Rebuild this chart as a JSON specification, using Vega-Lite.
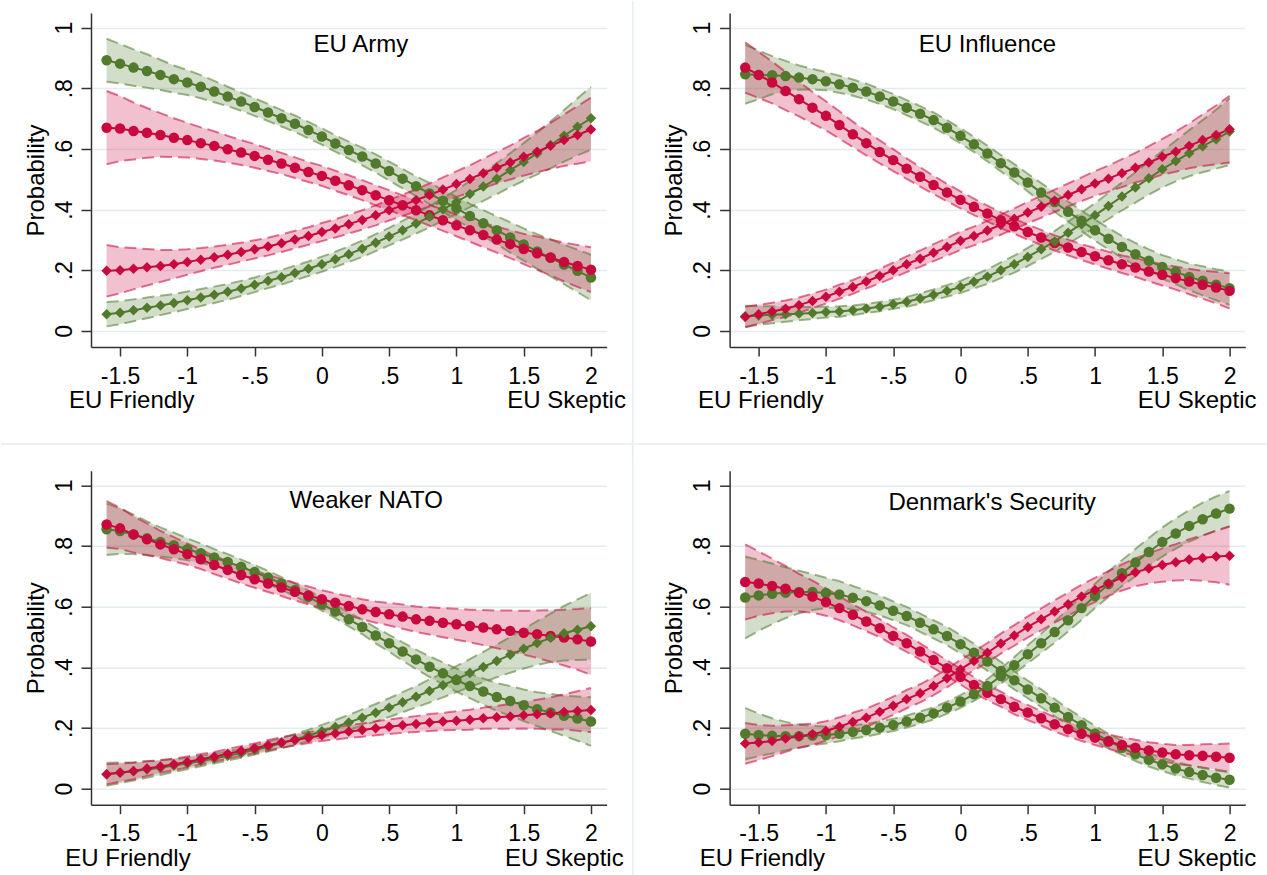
{
"$schema":"https://vega.github.io/schema/vega-lite/v6.json",
"background":"white",
"padding":{"left":0,"top":0,"right":0,"bottom":0},
"data":{"values":[
{"g":"EU Army","s":"a","x":-1.6,"p":0.892,"lo":0.821,"hi":0.963},
{"g":"EU Army","s":"a","x":-1.5,"p":0.881,"lo":0.816,"hi":0.946},
{"g":"EU Army","s":"a","x":-1.4,"p":0.868,"lo":0.808,"hi":0.928},
{"g":"EU Army","s":"a","x":-1.3,"p":0.857,"lo":0.802,"hi":0.912},
{"g":"EU Army","s":"a","x":-1.2,"p":0.844,"lo":0.794,"hi":0.894},
{"g":"EU Army","s":"a","x":-1.1,"p":0.830,"lo":0.785,"hi":0.875},
{"g":"EU Army","s":"a","x":-1,"p":0.819,"lo":0.778,"hi":0.860},
{"g":"EU Army","s":"a","x":-0.9,"p":0.805,"lo":0.767,"hi":0.843},
{"g":"EU Army","s":"a","x":-0.8,"p":0.789,"lo":0.754,"hi":0.824},
{"g":"EU Army","s":"a","x":-0.7,"p":0.773,"lo":0.741,"hi":0.805},
{"g":"EU Army","s":"a","x":-0.6,"p":0.756,"lo":0.726,"hi":0.786},
{"g":"EU Army","s":"a","x":-0.5,"p":0.738,"lo":0.709,"hi":0.767},
{"g":"EU Army","s":"a","x":-0.4,"p":0.720,"lo":0.692,"hi":0.748},
{"g":"EU Army","s":"a","x":-0.3,"p":0.701,"lo":0.674,"hi":0.728},
{"g":"EU Army","s":"a","x":-0.2,"p":0.683,"lo":0.656,"hi":0.710},
{"g":"EU Army","s":"a","x":-0.1,"p":0.662,"lo":0.635,"hi":0.689},
{"g":"EU Army","s":"a","x":0,"p":0.641,"lo":0.614,"hi":0.668},
{"g":"EU Army","s":"a","x":0.1,"p":0.618,"lo":0.591,"hi":0.645},
{"g":"EU Army","s":"a","x":0.2,"p":0.596,"lo":0.568,"hi":0.624},
{"g":"EU Army","s":"a","x":0.3,"p":0.575,"lo":0.546,"hi":0.604},
{"g":"EU Army","s":"a","x":0.4,"p":0.552,"lo":0.522,"hi":0.582},
{"g":"EU Army","s":"a","x":0.5,"p":0.527,"lo":0.496,"hi":0.558},
{"g":"EU Army","s":"a","x":0.6,"p":0.502,"lo":0.470,"hi":0.534},
{"g":"EU Army","s":"a","x":0.7,"p":0.477,"lo":0.444,"hi":0.510},
{"g":"EU Army","s":"a","x":0.8,"p":0.453,"lo":0.418,"hi":0.488},
{"g":"EU Army","s":"a","x":0.9,"p":0.429,"lo":0.393,"hi":0.465},
{"g":"EU Army","s":"a","x":1,"p":0.404,"lo":0.366,"hi":0.442},
{"g":"EU Army","s":"a","x":1.1,"p":0.379,"lo":0.339,"hi":0.419},
{"g":"EU Army","s":"a","x":1.2,"p":0.355,"lo":0.312,"hi":0.398},
{"g":"EU Army","s":"a","x":1.3,"p":0.332,"lo":0.286,"hi":0.378},
{"g":"EU Army","s":"a","x":1.4,"p":0.308,"lo":0.258,"hi":0.358},
{"g":"EU Army","s":"a","x":1.5,"p":0.285,"lo":0.232,"hi":0.338},
{"g":"EU Army","s":"a","x":1.6,"p":0.262,"lo":0.205,"hi":0.319},
{"g":"EU Army","s":"a","x":1.7,"p":0.241,"lo":0.180,"hi":0.302},
{"g":"EU Army","s":"a","x":1.8,"p":0.219,"lo":0.154,"hi":0.284},
{"g":"EU Army","s":"a","x":1.9,"p":0.198,"lo":0.128,"hi":0.268},
{"g":"EU Army","s":"a","x":2,"p":0.176,"lo":0.101,"hi":0.251},
{"g":"EU Army","s":"b","x":-1.6,"p":0.670,"lo":0.549,"hi":0.791},
{"g":"EU Army","s":"b","x":-1.5,"p":0.667,"lo":0.560,"hi":0.774},
{"g":"EU Army","s":"b","x":-1.4,"p":0.659,"lo":0.565,"hi":0.753},
{"g":"EU Army","s":"b","x":-1.3,"p":0.653,"lo":0.571,"hi":0.735},
{"g":"EU Army","s":"b","x":-1.2,"p":0.646,"lo":0.574,"hi":0.718},
{"g":"EU Army","s":"b","x":-1.1,"p":0.637,"lo":0.573,"hi":0.701},
{"g":"EU Army","s":"b","x":-1,"p":0.629,"lo":0.572,"hi":0.686},
{"g":"EU Army","s":"b","x":-0.9,"p":0.619,"lo":0.567,"hi":0.671},
{"g":"EU Army","s":"b","x":-0.8,"p":0.610,"lo":0.562,"hi":0.658},
{"g":"EU Army","s":"b","x":-0.7,"p":0.599,"lo":0.555,"hi":0.643},
{"g":"EU Army","s":"b","x":-0.6,"p":0.588,"lo":0.547,"hi":0.629},
{"g":"EU Army","s":"b","x":-0.5,"p":0.577,"lo":0.538,"hi":0.616},
{"g":"EU Army","s":"b","x":-0.4,"p":0.564,"lo":0.527,"hi":0.601},
{"g":"EU Army","s":"b","x":-0.3,"p":0.552,"lo":0.517,"hi":0.587},
{"g":"EU Army","s":"b","x":-0.2,"p":0.538,"lo":0.504,"hi":0.572},
{"g":"EU Army","s":"b","x":-0.1,"p":0.524,"lo":0.491,"hi":0.557},
{"g":"EU Army","s":"b","x":0,"p":0.511,"lo":0.478,"hi":0.544},
{"g":"EU Army","s":"b","x":0.1,"p":0.495,"lo":0.462,"hi":0.528},
{"g":"EU Army","s":"b","x":0.2,"p":0.480,"lo":0.447,"hi":0.513},
{"g":"EU Army","s":"b","x":0.3,"p":0.464,"lo":0.431,"hi":0.497},
{"g":"EU Army","s":"b","x":0.4,"p":0.447,"lo":0.414,"hi":0.480},
{"g":"EU Army","s":"b","x":0.5,"p":0.431,"lo":0.398,"hi":0.464},
{"g":"EU Army","s":"b","x":0.6,"p":0.414,"lo":0.381,"hi":0.447},
{"g":"EU Army","s":"b","x":0.7,"p":0.398,"lo":0.365,"hi":0.431},
{"g":"EU Army","s":"b","x":0.8,"p":0.381,"lo":0.347,"hi":0.415},
{"g":"EU Army","s":"b","x":0.9,"p":0.365,"lo":0.330,"hi":0.400},
{"g":"EU Army","s":"b","x":1,"p":0.348,"lo":0.312,"hi":0.384},
{"g":"EU Army","s":"b","x":1.1,"p":0.332,"lo":0.294,"hi":0.370},
{"g":"EU Army","s":"b","x":1.2,"p":0.316,"lo":0.276,"hi":0.356},
{"g":"EU Army","s":"b","x":1.3,"p":0.301,"lo":0.258,"hi":0.344},
{"g":"EU Army","s":"b","x":1.4,"p":0.286,"lo":0.240,"hi":0.332},
{"g":"EU Army","s":"b","x":1.5,"p":0.270,"lo":0.220,"hi":0.320},
{"g":"EU Army","s":"b","x":1.6,"p":0.256,"lo":0.201,"hi":0.311},
{"g":"EU Army","s":"b","x":1.7,"p":0.242,"lo":0.183,"hi":0.301},
{"g":"EU Army","s":"b","x":1.8,"p":0.227,"lo":0.163,"hi":0.291},
{"g":"EU Army","s":"b","x":1.9,"p":0.214,"lo":0.145,"hi":0.283},
{"g":"EU Army","s":"b","x":2,"p":0.202,"lo":0.128,"hi":0.276},
{"g":"EU Army","s":"c","x":-1.6,"p":0.055,"lo":0.015,"hi":0.095},
{"g":"EU Army","s":"c","x":-1.5,"p":0.060,"lo":0.022,"hi":0.098},
{"g":"EU Army","s":"c","x":-1.4,"p":0.068,"lo":0.032,"hi":0.104},
{"g":"EU Army","s":"c","x":-1.3,"p":0.076,"lo":0.042,"hi":0.110},
{"g":"EU Army","s":"c","x":-1.2,"p":0.084,"lo":0.052,"hi":0.116},
{"g":"EU Army","s":"c","x":-1.1,"p":0.092,"lo":0.062,"hi":0.122},
{"g":"EU Army","s":"c","x":-1,"p":0.101,"lo":0.072,"hi":0.130},
{"g":"EU Army","s":"c","x":-0.9,"p":0.110,"lo":0.082,"hi":0.138},
{"g":"EU Army","s":"c","x":-0.8,"p":0.119,"lo":0.092,"hi":0.146},
{"g":"EU Army","s":"c","x":-0.7,"p":0.129,"lo":0.103,"hi":0.155},
{"g":"EU Army","s":"c","x":-0.6,"p":0.140,"lo":0.115,"hi":0.165},
{"g":"EU Army","s":"c","x":-0.5,"p":0.152,"lo":0.128,"hi":0.176},
{"g":"EU Army","s":"c","x":-0.4,"p":0.165,"lo":0.141,"hi":0.189},
{"g":"EU Army","s":"c","x":-0.3,"p":0.177,"lo":0.153,"hi":0.201},
{"g":"EU Army","s":"c","x":-0.2,"p":0.191,"lo":0.167,"hi":0.215},
{"g":"EU Army","s":"c","x":-0.1,"p":0.205,"lo":0.181,"hi":0.229},
{"g":"EU Army","s":"c","x":0,"p":0.220,"lo":0.195,"hi":0.245},
{"g":"EU Army","s":"c","x":0.1,"p":0.236,"lo":0.211,"hi":0.261},
{"g":"EU Army","s":"c","x":0.2,"p":0.253,"lo":0.227,"hi":0.279},
{"g":"EU Army","s":"c","x":0.3,"p":0.271,"lo":0.244,"hi":0.298},
{"g":"EU Army","s":"c","x":0.4,"p":0.291,"lo":0.263,"hi":0.319},
{"g":"EU Army","s":"c","x":0.5,"p":0.311,"lo":0.282,"hi":0.340},
{"g":"EU Army","s":"c","x":0.6,"p":0.332,"lo":0.301,"hi":0.363},
{"g":"EU Army","s":"c","x":0.7,"p":0.354,"lo":0.321,"hi":0.387},
{"g":"EU Army","s":"c","x":0.8,"p":0.376,"lo":0.341,"hi":0.411},
{"g":"EU Army","s":"c","x":0.9,"p":0.401,"lo":0.364,"hi":0.438},
{"g":"EU Army","s":"c","x":1,"p":0.425,"lo":0.385,"hi":0.465},
{"g":"EU Army","s":"c","x":1.1,"p":0.451,"lo":0.408,"hi":0.494},
{"g":"EU Army","s":"c","x":1.2,"p":0.476,"lo":0.429,"hi":0.523},
{"g":"EU Army","s":"c","x":1.3,"p":0.502,"lo":0.451,"hi":0.553},
{"g":"EU Army","s":"c","x":1.4,"p":0.530,"lo":0.474,"hi":0.586},
{"g":"EU Army","s":"c","x":1.5,"p":0.557,"lo":0.495,"hi":0.619},
{"g":"EU Army","s":"c","x":1.6,"p":0.585,"lo":0.516,"hi":0.654},
{"g":"EU Army","s":"c","x":1.7,"p":0.613,"lo":0.536,"hi":0.690},
{"g":"EU Army","s":"c","x":1.8,"p":0.643,"lo":0.558,"hi":0.728},
{"g":"EU Army","s":"c","x":1.9,"p":0.673,"lo":0.579,"hi":0.767},
{"g":"EU Army","s":"c","x":2,"p":0.701,"lo":0.597,"hi":0.805},
{"g":"EU Army","s":"d","x":-1.6,"p":0.198,"lo":0.113,"hi":0.283},
{"g":"EU Army","s":"d","x":-1.5,"p":0.200,"lo":0.124,"hi":0.276},
{"g":"EU Army","s":"d","x":-1.4,"p":0.205,"lo":0.137,"hi":0.273},
{"g":"EU Army","s":"d","x":-1.3,"p":0.210,"lo":0.150,"hi":0.270},
{"g":"EU Army","s":"d","x":-1.2,"p":0.214,"lo":0.161,"hi":0.267},
{"g":"EU Army","s":"d","x":-1.1,"p":0.220,"lo":0.173,"hi":0.267},
{"g":"EU Army","s":"d","x":-1,"p":0.227,"lo":0.185,"hi":0.269},
{"g":"EU Army","s":"d","x":-0.9,"p":0.235,"lo":0.197,"hi":0.273},
{"g":"EU Army","s":"d","x":-0.8,"p":0.243,"lo":0.208,"hi":0.278},
{"g":"EU Army","s":"d","x":-0.7,"p":0.251,"lo":0.218,"hi":0.284},
{"g":"EU Army","s":"d","x":-0.6,"p":0.260,"lo":0.229,"hi":0.291},
{"g":"EU Army","s":"d","x":-0.5,"p":0.269,"lo":0.239,"hi":0.299},
{"g":"EU Army","s":"d","x":-0.4,"p":0.278,"lo":0.249,"hi":0.307},
{"g":"EU Army","s":"d","x":-0.3,"p":0.289,"lo":0.260,"hi":0.318},
{"g":"EU Army","s":"d","x":-0.2,"p":0.301,"lo":0.272,"hi":0.330},
{"g":"EU Army","s":"d","x":-0.1,"p":0.313,"lo":0.284,"hi":0.342},
{"g":"EU Army","s":"d","x":0,"p":0.326,"lo":0.296,"hi":0.356},
{"g":"EU Army","s":"d","x":0.1,"p":0.338,"lo":0.308,"hi":0.368},
{"g":"EU Army","s":"d","x":0.2,"p":0.352,"lo":0.321,"hi":0.383},
{"g":"EU Army","s":"d","x":0.3,"p":0.366,"lo":0.334,"hi":0.398},
{"g":"EU Army","s":"d","x":0.4,"p":0.381,"lo":0.348,"hi":0.414},
{"g":"EU Army","s":"d","x":0.5,"p":0.398,"lo":0.364,"hi":0.432},
{"g":"EU Army","s":"d","x":0.6,"p":0.414,"lo":0.379,"hi":0.449},
{"g":"EU Army","s":"d","x":0.7,"p":0.431,"lo":0.395,"hi":0.467},
{"g":"EU Army","s":"d","x":0.8,"p":0.448,"lo":0.410,"hi":0.486},
{"g":"EU Army","s":"d","x":0.9,"p":0.466,"lo":0.426,"hi":0.506},
{"g":"EU Army","s":"d","x":1,"p":0.484,"lo":0.442,"hi":0.526},
{"g":"EU Army","s":"d","x":1.1,"p":0.501,"lo":0.456,"hi":0.546},
{"g":"EU Army","s":"d","x":1.2,"p":0.520,"lo":0.472,"hi":0.568},
{"g":"EU Army","s":"d","x":1.3,"p":0.538,"lo":0.486,"hi":0.590},
{"g":"EU Army","s":"d","x":1.4,"p":0.555,"lo":0.499,"hi":0.611},
{"g":"EU Army","s":"d","x":1.5,"p":0.574,"lo":0.512,"hi":0.636},
{"g":"EU Army","s":"d","x":1.6,"p":0.591,"lo":0.523,"hi":0.659},
{"g":"EU Army","s":"d","x":1.7,"p":0.610,"lo":0.534,"hi":0.686},
{"g":"EU Army","s":"d","x":1.8,"p":0.629,"lo":0.544,"hi":0.714},
{"g":"EU Army","s":"d","x":1.9,"p":0.646,"lo":0.551,"hi":0.741},
{"g":"EU Army","s":"d","x":2,"p":0.664,"lo":0.559,"hi":0.769},
{"g":"EU Influence","s":"a","x":-1.6,"p":0.846,"lo":0.749,"hi":0.943},
{"g":"EU Influence","s":"a","x":-1.5,"p":0.844,"lo":0.764,"hi":0.924},
{"g":"EU Influence","s":"a","x":-1.4,"p":0.843,"lo":0.780,"hi":0.906},
{"g":"EU Influence","s":"a","x":-1.3,"p":0.840,"lo":0.790,"hi":0.890},
{"g":"EU Influence","s":"a","x":-1.2,"p":0.835,"lo":0.795,"hi":0.875},
{"g":"EU Influence","s":"a","x":-1.1,"p":0.830,"lo":0.796,"hi":0.864},
{"g":"EU Influence","s":"a","x":-1,"p":0.823,"lo":0.793,"hi":0.853},
{"g":"EU Influence","s":"a","x":-0.9,"p":0.813,"lo":0.785,"hi":0.841},
{"g":"EU Influence","s":"a","x":-0.8,"p":0.802,"lo":0.775,"hi":0.829},
{"g":"EU Influence","s":"a","x":-0.7,"p":0.789,"lo":0.763,"hi":0.815},
{"g":"EU Influence","s":"a","x":-0.6,"p":0.773,"lo":0.748,"hi":0.798},
{"g":"EU Influence","s":"a","x":-0.5,"p":0.756,"lo":0.731,"hi":0.781},
{"g":"EU Influence","s":"a","x":-0.4,"p":0.736,"lo":0.711,"hi":0.761},
{"g":"EU Influence","s":"a","x":-0.3,"p":0.716,"lo":0.691,"hi":0.741},
{"g":"EU Influence","s":"a","x":-0.2,"p":0.695,"lo":0.670,"hi":0.720},
{"g":"EU Influence","s":"a","x":-0.1,"p":0.670,"lo":0.645,"hi":0.695},
{"g":"EU Influence","s":"a","x":0,"p":0.643,"lo":0.618,"hi":0.668},
{"g":"EU Influence","s":"a","x":0.1,"p":0.615,"lo":0.590,"hi":0.640},
{"g":"EU Influence","s":"a","x":0.2,"p":0.585,"lo":0.559,"hi":0.611},
{"g":"EU Influence","s":"a","x":0.3,"p":0.553,"lo":0.526,"hi":0.580},
{"g":"EU Influence","s":"a","x":0.4,"p":0.522,"lo":0.494,"hi":0.550},
{"g":"EU Influence","s":"a","x":0.5,"p":0.489,"lo":0.460,"hi":0.518},
{"g":"EU Influence","s":"a","x":0.6,"p":0.456,"lo":0.425,"hi":0.487},
{"g":"EU Influence","s":"a","x":0.7,"p":0.425,"lo":0.393,"hi":0.457},
{"g":"EU Influence","s":"a","x":0.8,"p":0.393,"lo":0.360,"hi":0.426},
{"g":"EU Influence","s":"a","x":0.9,"p":0.363,"lo":0.329,"hi":0.397},
{"g":"EU Influence","s":"a","x":1,"p":0.332,"lo":0.297,"hi":0.367},
{"g":"EU Influence","s":"a","x":1.1,"p":0.304,"lo":0.269,"hi":0.339},
{"g":"EU Influence","s":"a","x":1.2,"p":0.277,"lo":0.241,"hi":0.313},
{"g":"EU Influence","s":"a","x":1.3,"p":0.253,"lo":0.216,"hi":0.290},
{"g":"EU Influence","s":"a","x":1.4,"p":0.231,"lo":0.193,"hi":0.269},
{"g":"EU Influence","s":"a","x":1.5,"p":0.211,"lo":0.172,"hi":0.250},
{"g":"EU Influence","s":"a","x":1.6,"p":0.195,"lo":0.154,"hi":0.236},
{"g":"EU Influence","s":"a","x":1.7,"p":0.178,"lo":0.134,"hi":0.222},
{"g":"EU Influence","s":"a","x":1.8,"p":0.165,"lo":0.117,"hi":0.213},
{"g":"EU Influence","s":"a","x":1.9,"p":0.152,"lo":0.101,"hi":0.203},
{"g":"EU Influence","s":"a","x":2,"p":0.141,"lo":0.086,"hi":0.196},
{"g":"EU Influence","s":"b","x":-1.6,"p":0.868,"lo":0.785,"hi":0.951},
{"g":"EU Influence","s":"b","x":-1.5,"p":0.844,"lo":0.768,"hi":0.920},
{"g":"EU Influence","s":"b","x":-1.4,"p":0.819,"lo":0.750,"hi":0.888},
{"g":"EU Influence","s":"b","x":-1.3,"p":0.791,"lo":0.728,"hi":0.854},
{"g":"EU Influence","s":"b","x":-1.2,"p":0.764,"lo":0.707,"hi":0.821},
{"g":"EU Influence","s":"b","x":-1.1,"p":0.736,"lo":0.684,"hi":0.788},
{"g":"EU Influence","s":"b","x":-1,"p":0.709,"lo":0.661,"hi":0.757},
{"g":"EU Influence","s":"b","x":-0.9,"p":0.679,"lo":0.634,"hi":0.724},
{"g":"EU Influence","s":"b","x":-0.8,"p":0.648,"lo":0.606,"hi":0.690},
{"g":"EU Influence","s":"b","x":-0.7,"p":0.619,"lo":0.579,"hi":0.659},
{"g":"EU Influence","s":"b","x":-0.6,"p":0.590,"lo":0.552,"hi":0.628},
{"g":"EU Influence","s":"b","x":-0.5,"p":0.563,"lo":0.527,"hi":0.599},
{"g":"EU Influence","s":"b","x":-0.4,"p":0.535,"lo":0.501,"hi":0.569},
{"g":"EU Influence","s":"b","x":-0.3,"p":0.508,"lo":0.476,"hi":0.540},
{"g":"EU Influence","s":"b","x":-0.2,"p":0.481,"lo":0.451,"hi":0.511},
{"g":"EU Influence","s":"b","x":-0.1,"p":0.456,"lo":0.427,"hi":0.485},
{"g":"EU Influence","s":"b","x":0,"p":0.432,"lo":0.404,"hi":0.460},
{"g":"EU Influence","s":"b","x":0.1,"p":0.409,"lo":0.382,"hi":0.436},
{"g":"EU Influence","s":"b","x":0.2,"p":0.387,"lo":0.361,"hi":0.413},
{"g":"EU Influence","s":"b","x":0.3,"p":0.365,"lo":0.339,"hi":0.391},
{"g":"EU Influence","s":"b","x":0.4,"p":0.345,"lo":0.320,"hi":0.370},
{"g":"EU Influence","s":"b","x":0.5,"p":0.326,"lo":0.301,"hi":0.351},
{"g":"EU Influence","s":"b","x":0.6,"p":0.308,"lo":0.283,"hi":0.333},
{"g":"EU Influence","s":"b","x":0.7,"p":0.290,"lo":0.265,"hi":0.315},
{"g":"EU Influence","s":"b","x":0.8,"p":0.275,"lo":0.249,"hi":0.301},
{"g":"EU Influence","s":"b","x":0.9,"p":0.260,"lo":0.234,"hi":0.286},
{"g":"EU Influence","s":"b","x":1,"p":0.246,"lo":0.219,"hi":0.273},
{"g":"EU Influence","s":"b","x":1.1,"p":0.233,"lo":0.205,"hi":0.261},
{"g":"EU Influence","s":"b","x":1.2,"p":0.220,"lo":0.191,"hi":0.249},
{"g":"EU Influence","s":"b","x":1.3,"p":0.209,"lo":0.178,"hi":0.240},
{"g":"EU Influence","s":"b","x":1.4,"p":0.196,"lo":0.163,"hi":0.229},
{"g":"EU Influence","s":"b","x":1.5,"p":0.185,"lo":0.150,"hi":0.220},
{"g":"EU Influence","s":"b","x":1.6,"p":0.174,"lo":0.136,"hi":0.212},
{"g":"EU Influence","s":"b","x":1.7,"p":0.163,"lo":0.121,"hi":0.205},
{"g":"EU Influence","s":"b","x":1.8,"p":0.152,"lo":0.106,"hi":0.198},
{"g":"EU Influence","s":"b","x":1.9,"p":0.143,"lo":0.091,"hi":0.195},
{"g":"EU Influence","s":"b","x":2,"p":0.132,"lo":0.074,"hi":0.190},
{"g":"EU Influence","s":"c","x":-1.6,"p":0.048,"lo":0.013,"hi":0.083},
{"g":"EU Influence","s":"c","x":-1.5,"p":0.051,"lo":0.020,"hi":0.082},
{"g":"EU Influence","s":"c","x":-1.4,"p":0.053,"lo":0.025,"hi":0.081},
{"g":"EU Influence","s":"c","x":-1.3,"p":0.055,"lo":0.030,"hi":0.080},
{"g":"EU Influence","s":"c","x":-1.2,"p":0.057,"lo":0.035,"hi":0.079},
{"g":"EU Influence","s":"c","x":-1.1,"p":0.059,"lo":0.039,"hi":0.079},
{"g":"EU Influence","s":"c","x":-1,"p":0.062,"lo":0.044,"hi":0.080},
{"g":"EU Influence","s":"c","x":-0.9,"p":0.064,"lo":0.047,"hi":0.081},
{"g":"EU Influence","s":"c","x":-0.8,"p":0.068,"lo":0.052,"hi":0.084},
{"g":"EU Influence","s":"c","x":-0.7,"p":0.074,"lo":0.059,"hi":0.089},
{"g":"EU Influence","s":"c","x":-0.6,"p":0.080,"lo":0.065,"hi":0.095},
{"g":"EU Influence","s":"c","x":-0.5,"p":0.088,"lo":0.073,"hi":0.103},
{"g":"EU Influence","s":"c","x":-0.4,"p":0.096,"lo":0.080,"hi":0.112},
{"g":"EU Influence","s":"c","x":-0.3,"p":0.107,"lo":0.090,"hi":0.124},
{"g":"EU Influence","s":"c","x":-0.2,"p":0.119,"lo":0.101,"hi":0.137},
{"g":"EU Influence","s":"c","x":-0.1,"p":0.132,"lo":0.113,"hi":0.151},
{"g":"EU Influence","s":"c","x":0,"p":0.145,"lo":0.125,"hi":0.165},
{"g":"EU Influence","s":"c","x":0.1,"p":0.162,"lo":0.140,"hi":0.184},
{"g":"EU Influence","s":"c","x":0.2,"p":0.179,"lo":0.155,"hi":0.203},
{"g":"EU Influence","s":"c","x":0.3,"p":0.200,"lo":0.174,"hi":0.226},
{"g":"EU Influence","s":"c","x":0.4,"p":0.220,"lo":0.192,"hi":0.248},
{"g":"EU Influence","s":"c","x":0.5,"p":0.244,"lo":0.214,"hi":0.274},
{"g":"EU Influence","s":"c","x":0.6,"p":0.269,"lo":0.237,"hi":0.301},
{"g":"EU Influence","s":"c","x":0.7,"p":0.295,"lo":0.261,"hi":0.329},
{"g":"EU Influence","s":"c","x":0.8,"p":0.324,"lo":0.288,"hi":0.360},
{"g":"EU Influence","s":"c","x":0.9,"p":0.352,"lo":0.314,"hi":0.390},
{"g":"EU Influence","s":"c","x":1,"p":0.381,"lo":0.341,"hi":0.421},
{"g":"EU Influence","s":"c","x":1.1,"p":0.412,"lo":0.369,"hi":0.455},
{"g":"EU Influence","s":"c","x":1.2,"p":0.443,"lo":0.397,"hi":0.489},
{"g":"EU Influence","s":"c","x":1.3,"p":0.473,"lo":0.423,"hi":0.523},
{"g":"EU Influence","s":"c","x":1.4,"p":0.503,"lo":0.449,"hi":0.557},
{"g":"EU Influence","s":"c","x":1.5,"p":0.533,"lo":0.473,"hi":0.593},
{"g":"EU Influence","s":"c","x":1.6,"p":0.560,"lo":0.493,"hi":0.627},
{"g":"EU Influence","s":"c","x":1.7,"p":0.586,"lo":0.510,"hi":0.662},
{"g":"EU Influence","s":"c","x":1.8,"p":0.609,"lo":0.523,"hi":0.695},
{"g":"EU Influence","s":"c","x":1.9,"p":0.632,"lo":0.535,"hi":0.729},
{"g":"EU Influence","s":"c","x":2,"p":0.657,"lo":0.547,"hi":0.767},
{"g":"EU Influence","s":"d","x":-1.6,"p":0.046,"lo":0.012,"hi":0.080},
{"g":"EU Influence","s":"d","x":-1.5,"p":0.055,"lo":0.024,"hi":0.086},
{"g":"EU Influence","s":"d","x":-1.4,"p":0.064,"lo":0.035,"hi":0.093},
{"g":"EU Influence","s":"d","x":-1.3,"p":0.073,"lo":0.046,"hi":0.100},
{"g":"EU Influence","s":"d","x":-1.2,"p":0.085,"lo":0.060,"hi":0.110},
{"g":"EU Influence","s":"d","x":-1.1,"p":0.099,"lo":0.075,"hi":0.123},
{"g":"EU Influence","s":"d","x":-1,"p":0.113,"lo":0.090,"hi":0.136},
{"g":"EU Influence","s":"d","x":-0.9,"p":0.129,"lo":0.106,"hi":0.152},
{"g":"EU Influence","s":"d","x":-0.8,"p":0.145,"lo":0.122,"hi":0.168},
{"g":"EU Influence","s":"d","x":-0.7,"p":0.163,"lo":0.140,"hi":0.186},
{"g":"EU Influence","s":"d","x":-0.6,"p":0.181,"lo":0.157,"hi":0.205},
{"g":"EU Influence","s":"d","x":-0.5,"p":0.200,"lo":0.175,"hi":0.225},
{"g":"EU Influence","s":"d","x":-0.4,"p":0.220,"lo":0.194,"hi":0.246},
{"g":"EU Influence","s":"d","x":-0.3,"p":0.238,"lo":0.211,"hi":0.265},
{"g":"EU Influence","s":"d","x":-0.2,"p":0.258,"lo":0.230,"hi":0.286},
{"g":"EU Influence","s":"d","x":-0.1,"p":0.277,"lo":0.248,"hi":0.306},
{"g":"EU Influence","s":"d","x":0,"p":0.297,"lo":0.267,"hi":0.327},
{"g":"EU Influence","s":"d","x":0.1,"p":0.313,"lo":0.282,"hi":0.344},
{"g":"EU Influence","s":"d","x":0.2,"p":0.331,"lo":0.299,"hi":0.363},
{"g":"EU Influence","s":"d","x":0.3,"p":0.350,"lo":0.317,"hi":0.383},
{"g":"EU Influence","s":"d","x":0.4,"p":0.370,"lo":0.336,"hi":0.404},
{"g":"EU Influence","s":"d","x":0.5,"p":0.390,"lo":0.355,"hi":0.425},
{"g":"EU Influence","s":"d","x":0.6,"p":0.409,"lo":0.373,"hi":0.445},
{"g":"EU Influence","s":"d","x":0.7,"p":0.429,"lo":0.392,"hi":0.466},
{"g":"EU Influence","s":"d","x":0.8,"p":0.448,"lo":0.410,"hi":0.486},
{"g":"EU Influence","s":"d","x":0.9,"p":0.467,"lo":0.428,"hi":0.506},
{"g":"EU Influence","s":"d","x":1,"p":0.486,"lo":0.445,"hi":0.527},
{"g":"EU Influence","s":"d","x":1.1,"p":0.502,"lo":0.459,"hi":0.545},
{"g":"EU Influence","s":"d","x":1.2,"p":0.520,"lo":0.474,"hi":0.566},
{"g":"EU Influence","s":"d","x":1.3,"p":0.538,"lo":0.489,"hi":0.587},
{"g":"EU Influence","s":"d","x":1.4,"p":0.555,"lo":0.501,"hi":0.609},
{"g":"EU Influence","s":"d","x":1.5,"p":0.574,"lo":0.515,"hi":0.633},
{"g":"EU Influence","s":"d","x":1.6,"p":0.591,"lo":0.525,"hi":0.657},
{"g":"EU Influence","s":"d","x":1.7,"p":0.610,"lo":0.536,"hi":0.684},
{"g":"EU Influence","s":"d","x":1.8,"p":0.629,"lo":0.544,"hi":0.714},
{"g":"EU Influence","s":"d","x":1.9,"p":0.646,"lo":0.549,"hi":0.743},
{"g":"EU Influence","s":"d","x":2,"p":0.665,"lo":0.555,"hi":0.775},
{"g":"Weaker NATO","s":"a","x":-1.6,"p":0.855,"lo":0.770,"hi":0.940},
{"g":"Weaker NATO","s":"a","x":-1.5,"p":0.849,"lo":0.774,"hi":0.924},
{"g":"Weaker NATO","s":"a","x":-1.4,"p":0.838,"lo":0.773,"hi":0.903},
{"g":"Weaker NATO","s":"a","x":-1.3,"p":0.825,"lo":0.769,"hi":0.881},
{"g":"Weaker NATO","s":"a","x":-1.2,"p":0.813,"lo":0.765,"hi":0.861},
{"g":"Weaker NATO","s":"a","x":-1.1,"p":0.802,"lo":0.760,"hi":0.844},
{"g":"Weaker NATO","s":"a","x":-1,"p":0.789,"lo":0.753,"hi":0.825},
{"g":"Weaker NATO","s":"a","x":-0.9,"p":0.776,"lo":0.744,"hi":0.808},
{"g":"Weaker NATO","s":"a","x":-0.8,"p":0.762,"lo":0.734,"hi":0.790},
{"g":"Weaker NATO","s":"a","x":-0.7,"p":0.747,"lo":0.721,"hi":0.773},
{"g":"Weaker NATO","s":"a","x":-0.6,"p":0.731,"lo":0.707,"hi":0.755},
{"g":"Weaker NATO","s":"a","x":-0.5,"p":0.714,"lo":0.691,"hi":0.737},
{"g":"Weaker NATO","s":"a","x":-0.4,"p":0.696,"lo":0.674,"hi":0.718},
{"g":"Weaker NATO","s":"a","x":-0.3,"p":0.676,"lo":0.655,"hi":0.697},
{"g":"Weaker NATO","s":"a","x":-0.2,"p":0.655,"lo":0.634,"hi":0.676},
{"g":"Weaker NATO","s":"a","x":-0.1,"p":0.632,"lo":0.611,"hi":0.653},
{"g":"Weaker NATO","s":"a","x":0,"p":0.608,"lo":0.587,"hi":0.629},
{"g":"Weaker NATO","s":"a","x":0.1,"p":0.584,"lo":0.562,"hi":0.606},
{"g":"Weaker NATO","s":"a","x":0.2,"p":0.558,"lo":0.535,"hi":0.581},
{"g":"Weaker NATO","s":"a","x":0.3,"p":0.533,"lo":0.509,"hi":0.557},
{"g":"Weaker NATO","s":"a","x":0.4,"p":0.505,"lo":0.479,"hi":0.531},
{"g":"Weaker NATO","s":"a","x":0.5,"p":0.479,"lo":0.451,"hi":0.507},
{"g":"Weaker NATO","s":"a","x":0.6,"p":0.452,"lo":0.422,"hi":0.482},
{"g":"Weaker NATO","s":"a","x":0.7,"p":0.426,"lo":0.394,"hi":0.458},
{"g":"Weaker NATO","s":"a","x":0.8,"p":0.402,"lo":0.368,"hi":0.436},
{"g":"Weaker NATO","s":"a","x":0.9,"p":0.380,"lo":0.344,"hi":0.416},
{"g":"Weaker NATO","s":"a","x":1,"p":0.358,"lo":0.320,"hi":0.396},
{"g":"Weaker NATO","s":"a","x":1.1,"p":0.338,"lo":0.298,"hi":0.378},
{"g":"Weaker NATO","s":"a","x":1.2,"p":0.320,"lo":0.277,"hi":0.363},
{"g":"Weaker NATO","s":"a","x":1.3,"p":0.302,"lo":0.256,"hi":0.348},
{"g":"Weaker NATO","s":"a","x":1.4,"p":0.289,"lo":0.240,"hi":0.338},
{"g":"Weaker NATO","s":"a","x":1.5,"p":0.275,"lo":0.223,"hi":0.327},
{"g":"Weaker NATO","s":"a","x":1.6,"p":0.262,"lo":0.206,"hi":0.318},
{"g":"Weaker NATO","s":"a","x":1.7,"p":0.251,"lo":0.190,"hi":0.312},
{"g":"Weaker NATO","s":"a","x":1.8,"p":0.240,"lo":0.174,"hi":0.306},
{"g":"Weaker NATO","s":"a","x":1.9,"p":0.231,"lo":0.158,"hi":0.304},
{"g":"Weaker NATO","s":"a","x":2,"p":0.221,"lo":0.141,"hi":0.301},
{"g":"Weaker NATO","s":"b","x":-1.6,"p":0.871,"lo":0.794,"hi":0.948},
{"g":"Weaker NATO","s":"b","x":-1.5,"p":0.858,"lo":0.790,"hi":0.926},
{"g":"Weaker NATO","s":"b","x":-1.4,"p":0.838,"lo":0.778,"hi":0.898},
{"g":"Weaker NATO","s":"b","x":-1.3,"p":0.822,"lo":0.770,"hi":0.874},
{"g":"Weaker NATO","s":"b","x":-1.2,"p":0.805,"lo":0.760,"hi":0.850},
{"g":"Weaker NATO","s":"b","x":-1.1,"p":0.789,"lo":0.749,"hi":0.829},
{"g":"Weaker NATO","s":"b","x":-1,"p":0.773,"lo":0.738,"hi":0.808},
{"g":"Weaker NATO","s":"b","x":-0.9,"p":0.756,"lo":0.724,"hi":0.788},
{"g":"Weaker NATO","s":"b","x":-0.8,"p":0.737,"lo":0.707,"hi":0.767},
{"g":"Weaker NATO","s":"b","x":-0.7,"p":0.721,"lo":0.692,"hi":0.750},
{"g":"Weaker NATO","s":"b","x":-0.6,"p":0.704,"lo":0.676,"hi":0.732},
{"g":"Weaker NATO","s":"b","x":-0.5,"p":0.690,"lo":0.662,"hi":0.718},
{"g":"Weaker NATO","s":"b","x":-0.4,"p":0.676,"lo":0.648,"hi":0.704},
{"g":"Weaker NATO","s":"b","x":-0.3,"p":0.663,"lo":0.635,"hi":0.691},
{"g":"Weaker NATO","s":"b","x":-0.2,"p":0.649,"lo":0.620,"hi":0.678},
{"g":"Weaker NATO","s":"b","x":-0.1,"p":0.637,"lo":0.608,"hi":0.666},
{"g":"Weaker NATO","s":"b","x":0,"p":0.624,"lo":0.594,"hi":0.654},
{"g":"Weaker NATO","s":"b","x":0.1,"p":0.613,"lo":0.582,"hi":0.644},
{"g":"Weaker NATO","s":"b","x":0.2,"p":0.602,"lo":0.570,"hi":0.634},
{"g":"Weaker NATO","s":"b","x":0.3,"p":0.591,"lo":0.558,"hi":0.624},
{"g":"Weaker NATO","s":"b","x":0.4,"p":0.582,"lo":0.547,"hi":0.617},
{"g":"Weaker NATO","s":"b","x":0.5,"p":0.575,"lo":0.538,"hi":0.612},
{"g":"Weaker NATO","s":"b","x":0.6,"p":0.567,"lo":0.527,"hi":0.607},
{"g":"Weaker NATO","s":"b","x":0.7,"p":0.558,"lo":0.516,"hi":0.600},
{"g":"Weaker NATO","s":"b","x":0.8,"p":0.553,"lo":0.508,"hi":0.598},
{"g":"Weaker NATO","s":"b","x":0.9,"p":0.547,"lo":0.499,"hi":0.595},
{"g":"Weaker NATO","s":"b","x":1,"p":0.542,"lo":0.491,"hi":0.593},
{"g":"Weaker NATO","s":"b","x":1.1,"p":0.536,"lo":0.482,"hi":0.590},
{"g":"Weaker NATO","s":"b","x":1.2,"p":0.531,"lo":0.473,"hi":0.589},
{"g":"Weaker NATO","s":"b","x":1.3,"p":0.525,"lo":0.463,"hi":0.587},
{"g":"Weaker NATO","s":"b","x":1.4,"p":0.520,"lo":0.453,"hi":0.587},
{"g":"Weaker NATO","s":"b","x":1.5,"p":0.514,"lo":0.442,"hi":0.586},
{"g":"Weaker NATO","s":"b","x":1.6,"p":0.509,"lo":0.431,"hi":0.587},
{"g":"Weaker NATO","s":"b","x":1.7,"p":0.503,"lo":0.418,"hi":0.588},
{"g":"Weaker NATO","s":"b","x":1.8,"p":0.498,"lo":0.406,"hi":0.590},
{"g":"Weaker NATO","s":"b","x":1.9,"p":0.492,"lo":0.392,"hi":0.592},
{"g":"Weaker NATO","s":"b","x":2,"p":0.485,"lo":0.375,"hi":0.595},
{"g":"Weaker NATO","s":"c","x":-1.6,"p":0.047,"lo":0.009,"hi":0.085},
{"g":"Weaker NATO","s":"c","x":-1.5,"p":0.052,"lo":0.018,"hi":0.086},
{"g":"Weaker NATO","s":"c","x":-1.4,"p":0.057,"lo":0.027,"hi":0.087},
{"g":"Weaker NATO","s":"c","x":-1.3,"p":0.063,"lo":0.036,"hi":0.090},
{"g":"Weaker NATO","s":"c","x":-1.2,"p":0.069,"lo":0.045,"hi":0.093},
{"g":"Weaker NATO","s":"c","x":-1.1,"p":0.076,"lo":0.055,"hi":0.097},
{"g":"Weaker NATO","s":"c","x":-1,"p":0.083,"lo":0.064,"hi":0.102},
{"g":"Weaker NATO","s":"c","x":-0.9,"p":0.091,"lo":0.074,"hi":0.108},
{"g":"Weaker NATO","s":"c","x":-0.8,"p":0.099,"lo":0.083,"hi":0.115},
{"g":"Weaker NATO","s":"c","x":-0.7,"p":0.108,"lo":0.093,"hi":0.123},
{"g":"Weaker NATO","s":"c","x":-0.6,"p":0.117,"lo":0.102,"hi":0.132},
{"g":"Weaker NATO","s":"c","x":-0.5,"p":0.127,"lo":0.112,"hi":0.142},
{"g":"Weaker NATO","s":"c","x":-0.4,"p":0.138,"lo":0.122,"hi":0.154},
{"g":"Weaker NATO","s":"c","x":-0.3,"p":0.150,"lo":0.133,"hi":0.167},
{"g":"Weaker NATO","s":"c","x":-0.2,"p":0.162,"lo":0.144,"hi":0.180},
{"g":"Weaker NATO","s":"c","x":-0.1,"p":0.175,"lo":0.156,"hi":0.194},
{"g":"Weaker NATO","s":"c","x":0,"p":0.189,"lo":0.168,"hi":0.210},
{"g":"Weaker NATO","s":"c","x":0.1,"p":0.203,"lo":0.180,"hi":0.226},
{"g":"Weaker NATO","s":"c","x":0.2,"p":0.218,"lo":0.193,"hi":0.243},
{"g":"Weaker NATO","s":"c","x":0.3,"p":0.234,"lo":0.207,"hi":0.261},
{"g":"Weaker NATO","s":"c","x":0.4,"p":0.250,"lo":0.221,"hi":0.279},
{"g":"Weaker NATO","s":"c","x":0.5,"p":0.267,"lo":0.236,"hi":0.298},
{"g":"Weaker NATO","s":"c","x":0.6,"p":0.285,"lo":0.252,"hi":0.318},
{"g":"Weaker NATO","s":"c","x":0.7,"p":0.303,"lo":0.268,"hi":0.338},
{"g":"Weaker NATO","s":"c","x":0.8,"p":0.322,"lo":0.284,"hi":0.360},
{"g":"Weaker NATO","s":"c","x":0.9,"p":0.341,"lo":0.301,"hi":0.381},
{"g":"Weaker NATO","s":"c","x":1,"p":0.361,"lo":0.318,"hi":0.404},
{"g":"Weaker NATO","s":"c","x":1.1,"p":0.381,"lo":0.335,"hi":0.427},
{"g":"Weaker NATO","s":"c","x":1.2,"p":0.401,"lo":0.351,"hi":0.451},
{"g":"Weaker NATO","s":"c","x":1.3,"p":0.421,"lo":0.367,"hi":0.475},
{"g":"Weaker NATO","s":"c","x":1.4,"p":0.441,"lo":0.382,"hi":0.500},
{"g":"Weaker NATO","s":"c","x":1.5,"p":0.461,"lo":0.396,"hi":0.526},
{"g":"Weaker NATO","s":"c","x":1.6,"p":0.480,"lo":0.408,"hi":0.552},
{"g":"Weaker NATO","s":"c","x":1.7,"p":0.497,"lo":0.417,"hi":0.577},
{"g":"Weaker NATO","s":"c","x":1.8,"p":0.512,"lo":0.422,"hi":0.602},
{"g":"Weaker NATO","s":"c","x":1.9,"p":0.524,"lo":0.424,"hi":0.624},
{"g":"Weaker NATO","s":"c","x":2,"p":0.535,"lo":0.425,"hi":0.645},
{"g":"Weaker NATO","s":"d","x":-1.6,"p":0.047,"lo":0.014,"hi":0.080},
{"g":"Weaker NATO","s":"d","x":-1.5,"p":0.053,"lo":0.023,"hi":0.083},
{"g":"Weaker NATO","s":"d","x":-1.4,"p":0.058,"lo":0.031,"hi":0.085},
{"g":"Weaker NATO","s":"d","x":-1.3,"p":0.066,"lo":0.042,"hi":0.090},
{"g":"Weaker NATO","s":"d","x":-1.2,"p":0.073,"lo":0.052,"hi":0.094},
{"g":"Weaker NATO","s":"d","x":-1.1,"p":0.080,"lo":0.061,"hi":0.099},
{"g":"Weaker NATO","s":"d","x":-1,"p":0.088,"lo":0.070,"hi":0.106},
{"g":"Weaker NATO","s":"d","x":-0.9,"p":0.097,"lo":0.080,"hi":0.114},
{"g":"Weaker NATO","s":"d","x":-0.8,"p":0.105,"lo":0.089,"hi":0.121},
{"g":"Weaker NATO","s":"d","x":-0.7,"p":0.115,"lo":0.099,"hi":0.131},
{"g":"Weaker NATO","s":"d","x":-0.6,"p":0.124,"lo":0.108,"hi":0.140},
{"g":"Weaker NATO","s":"d","x":-0.5,"p":0.133,"lo":0.117,"hi":0.149},
{"g":"Weaker NATO","s":"d","x":-0.4,"p":0.143,"lo":0.126,"hi":0.160},
{"g":"Weaker NATO","s":"d","x":-0.3,"p":0.152,"lo":0.135,"hi":0.169},
{"g":"Weaker NATO","s":"d","x":-0.2,"p":0.160,"lo":0.142,"hi":0.178},
{"g":"Weaker NATO","s":"d","x":-0.1,"p":0.168,"lo":0.150,"hi":0.186},
{"g":"Weaker NATO","s":"d","x":0,"p":0.176,"lo":0.157,"hi":0.195},
{"g":"Weaker NATO","s":"d","x":0.1,"p":0.182,"lo":0.162,"hi":0.202},
{"g":"Weaker NATO","s":"d","x":0.2,"p":0.188,"lo":0.167,"hi":0.209},
{"g":"Weaker NATO","s":"d","x":0.3,"p":0.193,"lo":0.171,"hi":0.215},
{"g":"Weaker NATO","s":"d","x":0.4,"p":0.199,"lo":0.176,"hi":0.222},
{"g":"Weaker NATO","s":"d","x":0.5,"p":0.204,"lo":0.180,"hi":0.228},
{"g":"Weaker NATO","s":"d","x":0.6,"p":0.209,"lo":0.184,"hi":0.234},
{"g":"Weaker NATO","s":"d","x":0.7,"p":0.213,"lo":0.187,"hi":0.239},
{"g":"Weaker NATO","s":"d","x":0.8,"p":0.218,"lo":0.190,"hi":0.246},
{"g":"Weaker NATO","s":"d","x":0.9,"p":0.221,"lo":0.192,"hi":0.250},
{"g":"Weaker NATO","s":"d","x":1,"p":0.224,"lo":0.193,"hi":0.255},
{"g":"Weaker NATO","s":"d","x":1.1,"p":0.227,"lo":0.194,"hi":0.260},
{"g":"Weaker NATO","s":"d","x":1.2,"p":0.232,"lo":0.197,"hi":0.267},
{"g":"Weaker NATO","s":"d","x":1.3,"p":0.235,"lo":0.197,"hi":0.273},
{"g":"Weaker NATO","s":"d","x":1.4,"p":0.238,"lo":0.197,"hi":0.279},
{"g":"Weaker NATO","s":"d","x":1.5,"p":0.242,"lo":0.198,"hi":0.286},
{"g":"Weaker NATO","s":"d","x":1.6,"p":0.245,"lo":0.197,"hi":0.293},
{"g":"Weaker NATO","s":"d","x":1.7,"p":0.248,"lo":0.195,"hi":0.301},
{"g":"Weaker NATO","s":"d","x":1.8,"p":0.253,"lo":0.195,"hi":0.311},
{"g":"Weaker NATO","s":"d","x":1.9,"p":0.256,"lo":0.191,"hi":0.321},
{"g":"Weaker NATO","s":"d","x":2,"p":0.259,"lo":0.186,"hi":0.332},
{"g":"Denmark's Security","s":"a","x":-1.6,"p":0.630,"lo":0.495,"hi":0.765},
{"g":"Denmark's Security","s":"a","x":-1.5,"p":0.637,"lo":0.520,"hi":0.754},
{"g":"Denmark's Security","s":"a","x":-1.4,"p":0.642,"lo":0.542,"hi":0.742},
{"g":"Denmark's Security","s":"a","x":-1.3,"p":0.646,"lo":0.562,"hi":0.730},
{"g":"Denmark's Security","s":"a","x":-1.2,"p":0.648,"lo":0.578,"hi":0.718},
{"g":"Denmark's Security","s":"a","x":-1.1,"p":0.648,"lo":0.589,"hi":0.707},
{"g":"Denmark's Security","s":"a","x":-1,"p":0.645,"lo":0.595,"hi":0.695},
{"g":"Denmark's Security","s":"a","x":-0.9,"p":0.640,"lo":0.596,"hi":0.684},
{"g":"Denmark's Security","s":"a","x":-0.8,"p":0.629,"lo":0.590,"hi":0.668},
{"g":"Denmark's Security","s":"a","x":-0.7,"p":0.618,"lo":0.583,"hi":0.653},
{"g":"Denmark's Security","s":"a","x":-0.6,"p":0.604,"lo":0.571,"hi":0.637},
{"g":"Denmark's Security","s":"a","x":-0.5,"p":0.586,"lo":0.555,"hi":0.617},
{"g":"Denmark's Security","s":"a","x":-0.4,"p":0.569,"lo":0.539,"hi":0.599},
{"g":"Denmark's Security","s":"a","x":-0.3,"p":0.547,"lo":0.517,"hi":0.577},
{"g":"Denmark's Security","s":"a","x":-0.2,"p":0.525,"lo":0.495,"hi":0.555},
{"g":"Denmark's Security","s":"a","x":-0.1,"p":0.503,"lo":0.473,"hi":0.533},
{"g":"Denmark's Security","s":"a","x":0,"p":0.476,"lo":0.446,"hi":0.506},
{"g":"Denmark's Security","s":"a","x":0.1,"p":0.448,"lo":0.418,"hi":0.478},
{"g":"Denmark's Security","s":"a","x":0.2,"p":0.419,"lo":0.389,"hi":0.449},
{"g":"Denmark's Security","s":"a","x":0.3,"p":0.388,"lo":0.358,"hi":0.418},
{"g":"Denmark's Security","s":"a","x":0.4,"p":0.357,"lo":0.327,"hi":0.387},
{"g":"Denmark's Security","s":"a","x":0.5,"p":0.327,"lo":0.298,"hi":0.356},
{"g":"Denmark's Security","s":"a","x":0.6,"p":0.298,"lo":0.269,"hi":0.327},
{"g":"Denmark's Security","s":"a","x":0.7,"p":0.267,"lo":0.239,"hi":0.295},
{"g":"Denmark's Security","s":"a","x":0.8,"p":0.236,"lo":0.209,"hi":0.263},
{"g":"Denmark's Security","s":"a","x":0.9,"p":0.209,"lo":0.183,"hi":0.235},
{"g":"Denmark's Security","s":"a","x":1,"p":0.182,"lo":0.157,"hi":0.207},
{"g":"Denmark's Security","s":"a","x":1.1,"p":0.157,"lo":0.133,"hi":0.181},
{"g":"Denmark's Security","s":"a","x":1.2,"p":0.135,"lo":0.112,"hi":0.158},
{"g":"Denmark's Security","s":"a","x":1.3,"p":0.113,"lo":0.091,"hi":0.135},
{"g":"Denmark's Security","s":"a","x":1.4,"p":0.095,"lo":0.073,"hi":0.117},
{"g":"Denmark's Security","s":"a","x":1.5,"p":0.080,"lo":0.058,"hi":0.102},
{"g":"Denmark's Security","s":"a","x":1.6,"p":0.066,"lo":0.044,"hi":0.088},
{"g":"Denmark's Security","s":"a","x":1.7,"p":0.055,"lo":0.033,"hi":0.077},
{"g":"Denmark's Security","s":"a","x":1.8,"p":0.045,"lo":0.022,"hi":0.068},
{"g":"Denmark's Security","s":"a","x":1.9,"p":0.036,"lo":0.012,"hi":0.060},
{"g":"Denmark's Security","s":"a","x":2,"p":0.029,"lo":0.003,"hi":0.055},
{"g":"Denmark's Security","s":"b","x":-1.6,"p":0.681,"lo":0.557,"hi":0.805},
{"g":"Denmark's Security","s":"b","x":-1.5,"p":0.676,"lo":0.570,"hi":0.782},
{"g":"Denmark's Security","s":"b","x":-1.4,"p":0.668,"lo":0.578,"hi":0.758},
{"g":"Denmark's Security","s":"b","x":-1.3,"p":0.659,"lo":0.584,"hi":0.734},
{"g":"Denmark's Security","s":"b","x":-1.2,"p":0.646,"lo":0.584,"hi":0.708},
{"g":"Denmark's Security","s":"b","x":-1.1,"p":0.633,"lo":0.580,"hi":0.686},
{"g":"Denmark's Security","s":"b","x":-1,"p":0.615,"lo":0.570,"hi":0.660},
{"g":"Denmark's Security","s":"b","x":-0.9,"p":0.595,"lo":0.555,"hi":0.635},
{"g":"Denmark's Security","s":"b","x":-0.8,"p":0.573,"lo":0.538,"hi":0.608},
{"g":"Denmark's Security","s":"b","x":-0.7,"p":0.551,"lo":0.519,"hi":0.583},
{"g":"Denmark's Security","s":"b","x":-0.6,"p":0.529,"lo":0.499,"hi":0.559},
{"g":"Denmark's Security","s":"b","x":-0.5,"p":0.503,"lo":0.474,"hi":0.532},
{"g":"Denmark's Security","s":"b","x":-0.4,"p":0.479,"lo":0.451,"hi":0.507},
{"g":"Denmark's Security","s":"b","x":-0.3,"p":0.452,"lo":0.425,"hi":0.479},
{"g":"Denmark's Security","s":"b","x":-0.2,"p":0.424,"lo":0.397,"hi":0.451},
{"g":"Denmark's Security","s":"b","x":-0.1,"p":0.397,"lo":0.371,"hi":0.423},
{"g":"Denmark's Security","s":"b","x":0,"p":0.369,"lo":0.343,"hi":0.395},
{"g":"Denmark's Security","s":"b","x":0.1,"p":0.342,"lo":0.316,"hi":0.368},
{"g":"Denmark's Security","s":"b","x":0.2,"p":0.316,"lo":0.291,"hi":0.341},
{"g":"Denmark's Security","s":"b","x":0.3,"p":0.295,"lo":0.270,"hi":0.320},
{"g":"Denmark's Security","s":"b","x":0.4,"p":0.270,"lo":0.245,"hi":0.295},
{"g":"Denmark's Security","s":"b","x":0.5,"p":0.251,"lo":0.226,"hi":0.276},
{"g":"Denmark's Security","s":"b","x":0.6,"p":0.232,"lo":0.208,"hi":0.256},
{"g":"Denmark's Security","s":"b","x":0.7,"p":0.212,"lo":0.188,"hi":0.236},
{"g":"Denmark's Security","s":"b","x":0.8,"p":0.196,"lo":0.172,"hi":0.220},
{"g":"Denmark's Security","s":"b","x":0.9,"p":0.181,"lo":0.157,"hi":0.205},
{"g":"Denmark's Security","s":"b","x":1,"p":0.168,"lo":0.144,"hi":0.192},
{"g":"Denmark's Security","s":"b","x":1.1,"p":0.155,"lo":0.131,"hi":0.179},
{"g":"Denmark's Security","s":"b","x":1.2,"p":0.144,"lo":0.119,"hi":0.169},
{"g":"Denmark's Security","s":"b","x":1.3,"p":0.135,"lo":0.109,"hi":0.161},
{"g":"Denmark's Security","s":"b","x":1.4,"p":0.126,"lo":0.099,"hi":0.153},
{"g":"Denmark's Security","s":"b","x":1.5,"p":0.119,"lo":0.090,"hi":0.148},
{"g":"Denmark's Security","s":"b","x":1.6,"p":0.113,"lo":0.082,"hi":0.144},
{"g":"Denmark's Security","s":"b","x":1.7,"p":0.110,"lo":0.076,"hi":0.144},
{"g":"Denmark's Security","s":"b","x":1.8,"p":0.108,"lo":0.070,"hi":0.146},
{"g":"Denmark's Security","s":"b","x":1.9,"p":0.105,"lo":0.063,"hi":0.147},
{"g":"Denmark's Security","s":"b","x":2,"p":0.102,"lo":0.055,"hi":0.149},
{"g":"Denmark's Security","s":"e","x":-1.6,"p":0.181,"lo":0.096,"hi":0.266},
{"g":"Denmark's Security","s":"e","x":-1.5,"p":0.177,"lo":0.107,"hi":0.247},
{"g":"Denmark's Security","s":"e","x":-1.4,"p":0.174,"lo":0.116,"hi":0.232},
{"g":"Denmark's Security","s":"e","x":-1.3,"p":0.173,"lo":0.126,"hi":0.220},
{"g":"Denmark's Security","s":"e","x":-1.2,"p":0.173,"lo":0.135,"hi":0.211},
{"g":"Denmark's Security","s":"e","x":-1.1,"p":0.175,"lo":0.143,"hi":0.207},
{"g":"Denmark's Security","s":"e","x":-1,"p":0.177,"lo":0.149,"hi":0.205},
{"g":"Denmark's Security","s":"e","x":-0.9,"p":0.181,"lo":0.156,"hi":0.206},
{"g":"Denmark's Security","s":"e","x":-0.8,"p":0.187,"lo":0.165,"hi":0.209},
{"g":"Denmark's Security","s":"e","x":-0.7,"p":0.193,"lo":0.172,"hi":0.214},
{"g":"Denmark's Security","s":"e","x":-0.6,"p":0.201,"lo":0.181,"hi":0.221},
{"g":"Denmark's Security","s":"e","x":-0.5,"p":0.210,"lo":0.190,"hi":0.230},
{"g":"Denmark's Security","s":"e","x":-0.4,"p":0.221,"lo":0.201,"hi":0.241},
{"g":"Denmark's Security","s":"e","x":-0.3,"p":0.234,"lo":0.214,"hi":0.254},
{"g":"Denmark's Security","s":"e","x":-0.2,"p":0.248,"lo":0.228,"hi":0.268},
{"g":"Denmark's Security","s":"e","x":-0.1,"p":0.267,"lo":0.247,"hi":0.287},
{"g":"Denmark's Security","s":"e","x":0,"p":0.287,"lo":0.266,"hi":0.308},
{"g":"Denmark's Security","s":"e","x":0.1,"p":0.311,"lo":0.289,"hi":0.333},
{"g":"Denmark's Security","s":"e","x":0.2,"p":0.338,"lo":0.315,"hi":0.361},
{"g":"Denmark's Security","s":"e","x":0.3,"p":0.371,"lo":0.346,"hi":0.396},
{"g":"Denmark's Security","s":"e","x":0.4,"p":0.407,"lo":0.380,"hi":0.434},
{"g":"Denmark's Security","s":"e","x":0.5,"p":0.443,"lo":0.413,"hi":0.473},
{"g":"Denmark's Security","s":"e","x":0.6,"p":0.479,"lo":0.447,"hi":0.511},
{"g":"Denmark's Security","s":"e","x":0.7,"p":0.516,"lo":0.481,"hi":0.551},
{"g":"Denmark's Security","s":"e","x":0.8,"p":0.555,"lo":0.518,"hi":0.592},
{"g":"Denmark's Security","s":"e","x":0.9,"p":0.595,"lo":0.556,"hi":0.634},
{"g":"Denmark's Security","s":"e","x":1,"p":0.635,"lo":0.595,"hi":0.675},
{"g":"Denmark's Security","s":"e","x":1.1,"p":0.674,"lo":0.632,"hi":0.716},
{"g":"Denmark's Security","s":"e","x":1.2,"p":0.710,"lo":0.667,"hi":0.753},
{"g":"Denmark's Security","s":"e","x":1.3,"p":0.745,"lo":0.700,"hi":0.790},
{"g":"Denmark's Security","s":"e","x":1.4,"p":0.780,"lo":0.734,"hi":0.826},
{"g":"Denmark's Security","s":"e","x":1.5,"p":0.813,"lo":0.765,"hi":0.861},
{"g":"Denmark's Security","s":"e","x":1.6,"p":0.841,"lo":0.791,"hi":0.891},
{"g":"Denmark's Security","s":"e","x":1.7,"p":0.866,"lo":0.814,"hi":0.918},
{"g":"Denmark's Security","s":"e","x":1.8,"p":0.888,"lo":0.833,"hi":0.943},
{"g":"Denmark's Security","s":"e","x":1.9,"p":0.907,"lo":0.851,"hi":0.963},
{"g":"Denmark's Security","s":"e","x":2,"p":0.923,"lo":0.865,"hi":0.981},
{"g":"Denmark's Security","s":"d","x":-1.6,"p":0.149,"lo":0.082,"hi":0.216},
{"g":"Denmark's Security","s":"d","x":-1.5,"p":0.152,"lo":0.094,"hi":0.210},
{"g":"Denmark's Security","s":"d","x":-1.4,"p":0.157,"lo":0.107,"hi":0.207},
{"g":"Denmark's Security","s":"d","x":-1.3,"p":0.165,"lo":0.121,"hi":0.209},
{"g":"Denmark's Security","s":"d","x":-1.2,"p":0.173,"lo":0.135,"hi":0.211},
{"g":"Denmark's Security","s":"d","x":-1.1,"p":0.179,"lo":0.144,"hi":0.214},
{"g":"Denmark's Security","s":"d","x":-1,"p":0.190,"lo":0.158,"hi":0.222},
{"g":"Denmark's Security","s":"d","x":-0.9,"p":0.204,"lo":0.173,"hi":0.235},
{"g":"Denmark's Security","s":"d","x":-0.8,"p":0.220,"lo":0.190,"hi":0.250},
{"g":"Denmark's Security","s":"d","x":-0.7,"p":0.234,"lo":0.204,"hi":0.264},
{"g":"Denmark's Security","s":"d","x":-0.6,"p":0.253,"lo":0.223,"hi":0.283},
{"g":"Denmark's Security","s":"d","x":-0.5,"p":0.273,"lo":0.243,"hi":0.303},
{"g":"Denmark's Security","s":"d","x":-0.4,"p":0.295,"lo":0.265,"hi":0.325},
{"g":"Denmark's Security","s":"d","x":-0.3,"p":0.314,"lo":0.284,"hi":0.344},
{"g":"Denmark's Security","s":"d","x":-0.2,"p":0.338,"lo":0.308,"hi":0.368},
{"g":"Denmark's Security","s":"d","x":-0.1,"p":0.364,"lo":0.334,"hi":0.394},
{"g":"Denmark's Security","s":"d","x":0,"p":0.393,"lo":0.362,"hi":0.424},
{"g":"Denmark's Security","s":"d","x":0.1,"p":0.421,"lo":0.390,"hi":0.452},
{"g":"Denmark's Security","s":"d","x":0.2,"p":0.448,"lo":0.416,"hi":0.480},
{"g":"Denmark's Security","s":"d","x":0.3,"p":0.478,"lo":0.445,"hi":0.511},
{"g":"Denmark's Security","s":"d","x":0.4,"p":0.505,"lo":0.471,"hi":0.539},
{"g":"Denmark's Security","s":"d","x":0.5,"p":0.533,"lo":0.498,"hi":0.568},
{"g":"Denmark's Security","s":"d","x":0.6,"p":0.558,"lo":0.522,"hi":0.594},
{"g":"Denmark's Security","s":"d","x":0.7,"p":0.584,"lo":0.547,"hi":0.621},
{"g":"Denmark's Security","s":"d","x":0.8,"p":0.608,"lo":0.570,"hi":0.646},
{"g":"Denmark's Security","s":"d","x":0.9,"p":0.633,"lo":0.594,"hi":0.672},
{"g":"Denmark's Security","s":"d","x":1,"p":0.655,"lo":0.615,"hi":0.695},
{"g":"Denmark's Security","s":"d","x":1.1,"p":0.676,"lo":0.635,"hi":0.717},
{"g":"Denmark's Security","s":"d","x":1.2,"p":0.696,"lo":0.653,"hi":0.739},
{"g":"Denmark's Security","s":"d","x":1.3,"p":0.713,"lo":0.667,"hi":0.759},
{"g":"Denmark's Security","s":"d","x":1.4,"p":0.726,"lo":0.676,"hi":0.776},
{"g":"Denmark's Security","s":"d","x":1.5,"p":0.737,"lo":0.682,"hi":0.792},
{"g":"Denmark's Security","s":"d","x":1.6,"p":0.746,"lo":0.686,"hi":0.806},
{"g":"Denmark's Security","s":"d","x":1.7,"p":0.755,"lo":0.688,"hi":0.822},
{"g":"Denmark's Security","s":"d","x":1.8,"p":0.760,"lo":0.685,"hi":0.835},
{"g":"Denmark's Security","s":"d","x":1.9,"p":0.765,"lo":0.680,"hi":0.850},
{"g":"Denmark's Security","s":"d","x":2,"p":0.768,"lo":0.672,"hi":0.864}
]},
"columns":2,
"bounds":"flush",
"spacing":{"column":122.6,"row":123.7},
"concat":[
{"width":515.7,"height":334,"transform":[{"filter":"datum.g == 'EU Army'"}],
"layer":[
{"mark":{"type":"rule","color":"#e6edf0","strokeWidth":1.5},
 "transform":[{"filter":"datum.s == 'a' && datum.x == 0"}],
 "encoding":{"x":{"datum":2.31,"type":"quantitative"},"y":{"datum":1.088,"type":"quantitative"},"y2":{"datum":-0.42}}},
{"mark":{"type":"rule","color":"#e6edf0","strokeWidth":1.5},
 "transform":[{"filter":"datum.s == 'a' && datum.x == 0"}],
 "encoding":{"x":{"datum":-2.385,"type":"quantitative"},"x2":{"datum":2.31},"y":{"datum":-0.3726,"type":"quantitative"}}},
{"mark":{"type":"area","fillOpacity":0.25},
 "encoding":{
  "x":{"field":"x","type":"quantitative","title":null,"scale":{"domain":[-1.716,2.117],"nice":false,"zero":false},
       "axis":{"values":[-1.5,-1,-0.5,0,0.5,1,1.5,2],"labelExpr":"datum.value == -0.5 ? '-.5' : datum.value == 0.5 ? '.5' : '' + datum.value","grid":false,"tickSize":9,"labelPadding":9,"labelFontSize":23}},
  "y":{"field":"lo","type":"quantitative","title":"Probability","scale":{"domain":[-0.053,1.048],"nice":false,"zero":false},
       "axis":{"values":[0,0.2,0.4,0.6,0.8,1],"labelExpr":"datum.value == 0 ? '0' : datum.value == 1 ? '1' : '.' + round(datum.value*10)","grid":true,"gridColor":"#e4ecef","gridWidth":1.5,"tickSize":10,"labelAngle":-90,"labelAlign":"center","labelBaseline":"alphabetic","labelPadding":10,"labelFontSize":23,"titleFontSize":24,"titlePadding":5}},
  "y2":{"field":"hi"},
  "color":{"field":"s","type":"nominal","legend":null,"scale":{"domain":["a","b","c","d","e"],"range":["#517a2c","#c9083e","#517a2c","#c9083e","#517a2c"]}}}},
{"mark":{"type":"line","strokeDash":[12,6],"strokeWidth":2,"opacity":0.55},
 "encoding":{"x":{"field":"x","type":"quantitative","title":null},"y":{"field":"lo","type":"quantitative","title":"Probability"},"color":{"field":"s","type":"nominal","legend":null}}},
{"mark":{"type":"line","strokeDash":[12,6],"strokeWidth":2,"opacity":0.55},
 "encoding":{"x":{"field":"x","type":"quantitative","title":null},"y":{"field":"hi","type":"quantitative","title":"Probability"},"color":{"field":"s","type":"nominal","legend":null}}},
{"mark":{"type":"line","strokeWidth":2},
 "encoding":{"x":{"field":"x","type":"quantitative","title":null},"y":{"field":"p","type":"quantitative","title":"Probability"},"color":{"field":"s","type":"nominal","legend":null}}},
{"mark":{"type":"point","filled":true,"opacity":1,"strokeWidth":0},
 "encoding":{"x":{"field":"x","type":"quantitative","title":null},"y":{"field":"p","type":"quantitative","title":"Probability"},"color":{"field":"s","type":"nominal","legend":null},
  "shape":{"field":"s","type":"nominal","legend":null,"scale":{"domain":["a","b","c","d","e"],"range":["circle","circle","diamond","diamond","circle"]}},
  "size":{"field":"s","type":"nominal","legend":null,"scale":{"domain":["a","b","c","d","e"],"range":[110,110,45,45,32]}}}},
{"mark":{"type":"text","fontSize":24,"align":"center","baseline":"alphabetic","color":"#000"},
 "transform":[{"filter":"datum.s == 'a' && datum.x == 0"}],
 "encoding":{"x":{"datum":0.29,"type":"quantitative"},"y":{"datum":0.918,"type":"quantitative"},"text":{"field":"g"}}},
{"mark":{"type":"text","fontSize":24,"align":"left","baseline":"alphabetic","color":"#000"},
 "transform":[{"filter":"datum.s == 'a' && datum.x == 0"}],
 "encoding":{"x":{"datum":-1.879,"type":"quantitative"},"y":{"datum":-0.254,"type":"quantitative"},"text":{"value":"EU Friendly"}}},
{"mark":{"type":"text","fontSize":24,"align":"right","baseline":"alphabetic","color":"#000"},
 "transform":[{"filter":"datum.s == 'a' && datum.x == 0"}],
 "encoding":{"x":{"datum":2.26,"type":"quantitative"},"y":{"datum":-0.254,"type":"quantitative"},"text":{"value":"EU Skeptic"}}}
]},
{"width":515.7,"height":334,"transform":[{"filter":"datum.g == 'EU Influence'"}],
"layer":[
{"mark":{"type":"rule","color":"#e6edf0","strokeWidth":1.5},
 "transform":[{"filter":"datum.s == 'a' && datum.x == 0"}],
 "encoding":{"x":{"datum":-2.433,"type":"quantitative"},"x2":{"datum":2.29},"y":{"datum":-0.3726,"type":"quantitative"}}},
{"mark":{"type":"area","fillOpacity":0.25},
 "encoding":{
  "x":{"field":"x","type":"quantitative","title":null,"scale":{"domain":[-1.716,2.117],"nice":false,"zero":false},
       "axis":{"values":[-1.5,-1,-0.5,0,0.5,1,1.5,2],"labelExpr":"datum.value == -0.5 ? '-.5' : datum.value == 0.5 ? '.5' : '' + datum.value","grid":false,"tickSize":9,"labelPadding":9,"labelFontSize":23}},
  "y":{"field":"lo","type":"quantitative","title":"Probability","scale":{"domain":[-0.053,1.048],"nice":false,"zero":false},
       "axis":{"values":[0,0.2,0.4,0.6,0.8,1],"labelExpr":"datum.value == 0 ? '0' : datum.value == 1 ? '1' : '.' + round(datum.value*10)","grid":true,"gridColor":"#e4ecef","gridWidth":1.5,"tickSize":10,"labelAngle":-90,"labelAlign":"center","labelBaseline":"alphabetic","labelPadding":10,"labelFontSize":23,"titleFontSize":24,"titlePadding":5}},
  "y2":{"field":"hi"},
  "color":{"field":"s","type":"nominal","legend":null,"scale":{"domain":["a","b","c","d","e"],"range":["#517a2c","#c9083e","#517a2c","#c9083e","#517a2c"]}}}},
{"mark":{"type":"line","strokeDash":[12,6],"strokeWidth":2,"opacity":0.55},
 "encoding":{"x":{"field":"x","type":"quantitative","title":null},"y":{"field":"lo","type":"quantitative","title":"Probability"},"color":{"field":"s","type":"nominal","legend":null}}},
{"mark":{"type":"line","strokeDash":[12,6],"strokeWidth":2,"opacity":0.55},
 "encoding":{"x":{"field":"x","type":"quantitative","title":null},"y":{"field":"hi","type":"quantitative","title":"Probability"},"color":{"field":"s","type":"nominal","legend":null}}},
{"mark":{"type":"line","strokeWidth":2},
 "encoding":{"x":{"field":"x","type":"quantitative","title":null},"y":{"field":"p","type":"quantitative","title":"Probability"},"color":{"field":"s","type":"nominal","legend":null}}},
{"mark":{"type":"point","filled":true,"opacity":1,"strokeWidth":0},
 "encoding":{"x":{"field":"x","type":"quantitative","title":null},"y":{"field":"p","type":"quantitative","title":"Probability"},"color":{"field":"s","type":"nominal","legend":null},
  "shape":{"field":"s","type":"nominal","legend":null,"scale":{"domain":["a","b","c","d","e"],"range":["circle","circle","diamond","diamond","circle"]}},
  "size":{"field":"s","type":"nominal","legend":null,"scale":{"domain":["a","b","c","d","e"],"range":[110,110,45,45,32]}}}},
{"mark":{"type":"text","fontSize":24,"align":"center","baseline":"alphabetic","color":"#000"},
 "transform":[{"filter":"datum.s == 'a' && datum.x == 0"}],
 "encoding":{"x":{"datum":0.2,"type":"quantitative"},"y":{"datum":0.918,"type":"quantitative"},"text":{"field":"g"}}},
{"mark":{"type":"text","fontSize":24,"align":"left","baseline":"alphabetic","color":"#000"},
 "transform":[{"filter":"datum.s == 'a' && datum.x == 0"}],
 "encoding":{"x":{"datum":-1.95,"type":"quantitative"},"y":{"datum":-0.254,"type":"quantitative"},"text":{"value":"EU Friendly"}}},
{"mark":{"type":"text","fontSize":24,"align":"right","baseline":"alphabetic","color":"#000"},
 "transform":[{"filter":"datum.s == 'a' && datum.x == 0"}],
 "encoding":{"x":{"datum":2.2,"type":"quantitative"},"y":{"datum":-0.254,"type":"quantitative"},"text":{"value":"EU Skeptic"}}}
]},
{"width":515.7,"height":334,"transform":[{"filter":"datum.g == 'Weaker NATO'"}],
"layer":[
{"mark":{"type":"rule","color":"#e6edf0","strokeWidth":1.5},
 "transform":[{"filter":"datum.s == 'a' && datum.x == 0"}],
 "encoding":{"x":{"datum":2.31,"type":"quantitative"},"y":{"datum":1.1365,"type":"quantitative"},"y2":{"datum":-0.288}}},
{"mark":{"type":"area","fillOpacity":0.25},
 "encoding":{
  "x":{"field":"x","type":"quantitative","title":null,"scale":{"domain":[-1.716,2.117],"nice":false,"zero":false},
       "axis":{"values":[-1.5,-1,-0.5,0,0.5,1,1.5,2],"labelExpr":"datum.value == -0.5 ? '-.5' : datum.value == 0.5 ? '.5' : '' + datum.value","grid":false,"tickSize":9,"labelPadding":9,"labelFontSize":23}},
  "y":{"field":"lo","type":"quantitative","title":"Probability","scale":{"domain":[-0.053,1.048],"nice":false,"zero":false},
       "axis":{"values":[0,0.2,0.4,0.6,0.8,1],"labelExpr":"datum.value == 0 ? '0' : datum.value == 1 ? '1' : '.' + round(datum.value*10)","grid":true,"gridColor":"#e4ecef","gridWidth":1.5,"tickSize":10,"labelAngle":-90,"labelAlign":"center","labelBaseline":"alphabetic","labelPadding":10,"labelFontSize":23,"titleFontSize":24,"titlePadding":5}},
  "y2":{"field":"hi"},
  "color":{"field":"s","type":"nominal","legend":null,"scale":{"domain":["a","b","c","d","e"],"range":["#517a2c","#c9083e","#517a2c","#c9083e","#517a2c"]}}}},
{"mark":{"type":"line","strokeDash":[12,6],"strokeWidth":2,"opacity":0.55},
 "encoding":{"x":{"field":"x","type":"quantitative","title":null},"y":{"field":"lo","type":"quantitative","title":"Probability"},"color":{"field":"s","type":"nominal","legend":null}}},
{"mark":{"type":"line","strokeDash":[12,6],"strokeWidth":2,"opacity":0.55},
 "encoding":{"x":{"field":"x","type":"quantitative","title":null},"y":{"field":"hi","type":"quantitative","title":"Probability"},"color":{"field":"s","type":"nominal","legend":null}}},
{"mark":{"type":"line","strokeWidth":2},
 "encoding":{"x":{"field":"x","type":"quantitative","title":null},"y":{"field":"p","type":"quantitative","title":"Probability"},"color":{"field":"s","type":"nominal","legend":null}}},
{"mark":{"type":"point","filled":true,"opacity":1,"strokeWidth":0},
 "encoding":{"x":{"field":"x","type":"quantitative","title":null},"y":{"field":"p","type":"quantitative","title":"Probability"},"color":{"field":"s","type":"nominal","legend":null},
  "shape":{"field":"s","type":"nominal","legend":null,"scale":{"domain":["a","b","c","d","e"],"range":["circle","circle","diamond","diamond","circle"]}},
  "size":{"field":"s","type":"nominal","legend":null,"scale":{"domain":["a","b","c","d","e"],"range":[110,110,45,45,32]}}}},
{"mark":{"type":"text","fontSize":24,"align":"center","baseline":"alphabetic","color":"#000"},
 "transform":[{"filter":"datum.s == 'a' && datum.x == 0"}],
 "encoding":{"x":{"datum":0.33,"type":"quantitative"},"y":{"datum":0.926,"type":"quantitative"},"text":{"field":"g"}}},
{"mark":{"type":"text","fontSize":24,"align":"left","baseline":"alphabetic","color":"#000"},
 "transform":[{"filter":"datum.s == 'a' && datum.x == 0"}],
 "encoding":{"x":{"datum":-1.907,"type":"quantitative"},"y":{"datum":-0.254,"type":"quantitative"},"text":{"value":"EU Friendly"}}},
{"mark":{"type":"text","fontSize":24,"align":"right","baseline":"alphabetic","color":"#000"},
 "transform":[{"filter":"datum.s == 'a' && datum.x == 0"}],
 "encoding":{"x":{"datum":2.243,"type":"quantitative"},"y":{"datum":-0.254,"type":"quantitative"},"text":{"value":"EU Skeptic"}}}
]},
{"width":515.7,"height":334,"transform":[{"filter":"datum.g == \"Denmark's Security\""}],
"layer":[
{"mark":{"type":"area","fillOpacity":0.25},
 "encoding":{
  "x":{"field":"x","type":"quantitative","title":null,"scale":{"domain":[-1.716,2.117],"nice":false,"zero":false},
       "axis":{"values":[-1.5,-1,-0.5,0,0.5,1,1.5,2],"labelExpr":"datum.value == -0.5 ? '-.5' : datum.value == 0.5 ? '.5' : '' + datum.value","grid":false,"tickSize":9,"labelPadding":9,"labelFontSize":23}},
  "y":{"field":"lo","type":"quantitative","title":"Probability","scale":{"domain":[-0.053,1.048],"nice":false,"zero":false},
       "axis":{"values":[0,0.2,0.4,0.6,0.8,1],"labelExpr":"datum.value == 0 ? '0' : datum.value == 1 ? '1' : '.' + round(datum.value*10)","grid":true,"gridColor":"#e4ecef","gridWidth":1.5,"tickSize":10,"labelAngle":-90,"labelAlign":"center","labelBaseline":"alphabetic","labelPadding":10,"labelFontSize":23,"titleFontSize":24,"titlePadding":5}},
  "y2":{"field":"hi"},
  "color":{"field":"s","type":"nominal","legend":null,"scale":{"domain":["a","b","c","d","e"],"range":["#517a2c","#c9083e","#517a2c","#c9083e","#517a2c"]}}}},
{"mark":{"type":"line","strokeDash":[12,6],"strokeWidth":2,"opacity":0.55},
 "encoding":{"x":{"field":"x","type":"quantitative","title":null},"y":{"field":"lo","type":"quantitative","title":"Probability"},"color":{"field":"s","type":"nominal","legend":null}}},
{"mark":{"type":"line","strokeDash":[12,6],"strokeWidth":2,"opacity":0.55},
 "encoding":{"x":{"field":"x","type":"quantitative","title":null},"y":{"field":"hi","type":"quantitative","title":"Probability"},"color":{"field":"s","type":"nominal","legend":null}}},
{"mark":{"type":"line","strokeWidth":2},
 "encoding":{"x":{"field":"x","type":"quantitative","title":null},"y":{"field":"p","type":"quantitative","title":"Probability"},"color":{"field":"s","type":"nominal","legend":null}}},
{"mark":{"type":"point","filled":true,"opacity":1,"strokeWidth":0},
 "encoding":{"x":{"field":"x","type":"quantitative","title":null},"y":{"field":"p","type":"quantitative","title":"Probability"},"color":{"field":"s","type":"nominal","legend":null},
  "shape":{"field":"s","type":"nominal","legend":null,"scale":{"domain":["a","b","c","d","e"],"range":["circle","circle","diamond","diamond","circle"]}},
  "size":{"field":"s","type":"nominal","legend":null,"scale":{"domain":["a","b","c","d","e"],"range":[110,110,45,45,32]}}}},
{"mark":{"type":"text","fontSize":24,"align":"center","baseline":"alphabetic","color":"#000"},
 "transform":[{"filter":"datum.s == 'a' && datum.x == 0"}],
 "encoding":{"x":{"datum":0.235,"type":"quantitative"},"y":{"datum":0.919,"type":"quantitative"},"text":{"field":"g"}}},
{"mark":{"type":"text","fontSize":24,"align":"left","baseline":"alphabetic","color":"#000"},
 "transform":[{"filter":"datum.s == 'a' && datum.x == 0"}],
 "encoding":{"x":{"datum":-1.938,"type":"quantitative"},"y":{"datum":-0.254,"type":"quantitative"},"text":{"value":"EU Friendly"}}},
{"mark":{"type":"text","fontSize":24,"align":"right","baseline":"alphabetic","color":"#000"},
 "transform":[{"filter":"datum.s == 'a' && datum.x == 0"}],
 "encoding":{"x":{"datum":2.198,"type":"quantitative"},"y":{"datum":-0.254,"type":"quantitative"},"text":{"value":"EU Skeptic"}}}
]}
],
"config":{
 "view":{"stroke":null},
 "font":"Liberation Sans",
 "text":{"font":"Liberation Sans"},
 "axis":{"labelFont":"Liberation Sans","titleFont":"Liberation Sans","labelColor":"#000","titleColor":"#000","titleFontWeight":"normal","domainColor":"#333","tickColor":"#333","domainWidth":1.5,"tickWidth":1.5}
}
}
